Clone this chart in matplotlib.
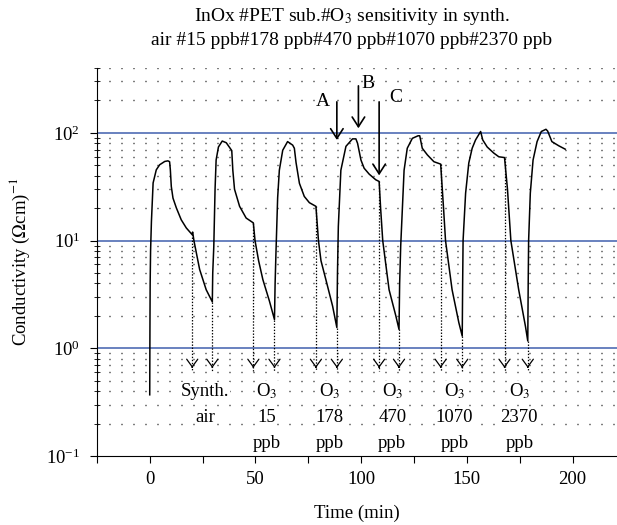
# InOx on PET, O3 sensitivity run (log conductivity vs time)

import numpy as np
import matplotlib
matplotlib.use("Agg")
import matplotlib.pyplot as plt

plt.rcParams['font.family'] = ['Liberation Serif', 'DejaVu Serif']
plt.rcParams['mathtext.fontset'] = 'stix'
plt.rcParams['lines.scale_dashes'] = False

# curve: time (min), conductivity (Ohm cm)^-1
time_min = [0, 0.1, 0.2, 0.4, 0.8, 1.6, 3.1, 4.7, 7.1, 8.6, 9.4, 9.75, 10.2, 11.0, 12.6, 14.9, 17.3, 20.0, 20.3, 20.9, 23.6, 26.7, 29.6,
            29.8, 30.3, 30.9, 31.4, 32.5, 34.3, 36.2, 38.8, 39.3, 40.1, 42.5, 45.6, 49.0, 49.8, 51.5, 53.5, 56.6, 59.0,
            59.3, 59.7, 60.5, 61.3, 62.9, 65.2, 67.6, 68.4, 69.2, 70.8, 73.1, 75.5, 78.6, 79.8, 81.0, 83.3, 86.5, 88.5,
            88.8, 89.2, 90.4, 92.8, 95.9, 97.5, 98.3, 99.9, 101.4, 103.8, 106.9, 108.5, 109.2, 110.2, 113.2, 116.4, 117.9,
            118.2, 118.7, 120.3, 121.8, 124.2, 126.9, 127.7, 128.9, 131.3, 134.4, 137.6, 139.0, 139.9, 143.0, 146.2, 147.8,
            148.0, 148.2, 149.4, 150.9, 152.5, 154.1, 156.5, 157.5, 159.6, 162.7, 165.1, 167.8, 169.2, 170.8, 174.5, 177.7, 178.8,
            179.0, 179.2, 180.0, 181.3, 183.2, 185.2, 187.4, 188.2, 190.2, 193.4, 196.5]
conductivity = [0.37, 1.5, 4.0, 8.0, 15.0, 34.3, 45.4, 50.6, 54.3, 55.0, 54.0, 45.4, 31.8, 24.8, 20.1, 15.6, 13.1, 11.4, 12.0, 10.0, 5.4, 3.5, 2.7,
                5.0, 8.8, 30.0, 56.0, 74.0, 84.0, 81.0, 68.5, 45.0, 30.0, 20.8, 16.2, 14.6, 10.0, 6.5, 4.35, 2.75, 1.85,
                4.0, 7.7, 25.0, 45.0, 69.0, 83.0, 77.0, 72.0, 53.0, 34.0, 25.7, 22.5, 20.8, 10.0, 6.5, 4.35, 2.46, 1.56,
                5.0, 13.5, 45.0, 75.0, 88.0, 88.0, 80.0, 56.0, 47.0, 41.4, 36.7, 35.4, 20.0, 10.0, 3.5, 2.0, 1.5,
                4.0, 8.9, 45.0, 72.0, 89.0, 94.0, 94.0, 72.0, 62.5, 54.0, 51.3, 19.4, 10.0, 3.5, 1.73, 1.3,
                4.0, 10.0, 27.6, 52.5, 72.0, 86.0, 103.0, 86.0, 74.0, 65.0, 60.0, 59.0, 30.0, 10.0, 3.5, 1.6, 1.17,
                4.0, 10.0, 27.6, 56.0, 83.0, 103.0, 108.0, 104.0, 83.0, 76.0, 70.6]

# gas switching points: (time, value) where the dotted arrows start
switch_off_t = [20.1, 49.0, 78.6, 108.5, 137.6, 167.8]
switch_off_v = [11.4, 14.6, 20.8, 35.4, 51.3, 59.0]
switch_on_t = [29.6, 59.0, 88.5, 117.9, 147.8, 178.8]
switch_on_v = [2.7, 1.85, 1.56, 1.5, 1.3, 1.17]

gas_top = ['Synth.', 'O$_3$', 'O$_3$', 'O$_3$', 'O$_3$', 'O$_3$']
gas_mid = ['air', '15', '178', '470', '1070', '2370']
gas_bot = ['', 'ppb', 'ppb', 'ppb', 'ppb', 'ppb']

# A/B/C markers
mark_names = ['A', 'B', 'C']
mark_t = [88.5, 98.7, 108.5]
mark_from = [206, 290, 206]
mark_to = [81, 104, 38]
mark_label_t = [82, 103, 116.5]
mark_label_v = [194, 285, 211]

FS = 13.5

fig = plt.figure(figsize=(6.17, 5.25), dpi=100)
ax = fig.add_axes([0.157, 0.1314, 0.843, 0.739])
ax.set_yscale('log')
ax.set_xlim(-25, 221)
ax.set_ylim(0.1, 400)

# dotted lattice on minor ticks + blue decades
for dec in [0.1, 1, 10, 100]:
    for m in range(2, 10):
        yv = dec * m
        if yv > 400:
            break
        ax.axhline(yv, color='black', lw=1.0, linestyle=(8.64, (0.72, 7.92)),
                   dash_capstyle='butt', zorder=0)
for yv in [1, 10, 100]:
    ax.axhline(yv, color='#4f6cb4', lw=1.2, zorder=1)

ax.plot(time_min, conductivity, color='black', lw=1.1, zorder=3)

tip = 0.62
for t, v in zip(switch_off_t + switch_on_t, switch_off_v + switch_on_v):
    ax.plot([t, t], [v, tip], color='black', lw=0.9, linestyle=(0, (1, 1.2)), zorder=2)
    ax.annotate('', xy=(t, tip), xytext=(t, tip * 1.15),
                arrowprops=dict(arrowstyle='->,head_length=0.55,head_width=0.4', color='black', lw=0.9))

for i in range(len(gas_mid)):
    xc = (switch_off_t[i] + switch_on_t[i]) / 2 + 1.5
    for txt, yv in zip([gas_top[i], gas_mid[i], gas_bot[i]], [0.40, 0.23, 0.132]):
        if txt:
            ax.text(xc, yv, txt, ha='center', va='center', fontsize=FS,
                    bbox=dict(facecolor='white', edgecolor='none', pad=0.5), zorder=4)

for name, t, y0, y1, lt, lv in zip(mark_names, mark_t, mark_from, mark_to, mark_label_t, mark_label_v):
    ax.annotate('', xy=(t, y1), xytext=(t, y0),
                arrowprops=dict(arrowstyle='->,head_length=0.7,head_width=0.45', color='black', lw=1.2))
    ax.text(lt, lv, name, ha='center', va='center', fontsize=FS + 0.5)

ax.spines['top'].set_visible(False)
ax.spines['right'].set_visible(False)
ax.set_xticks(np.arange(-25, 226, 25))
ax.set_xticklabels(['' if (v % 50 or v < 0) else str(v) for v in range(-25, 226, 25)])
ax.set_xlim(-25, 221)
ax.tick_params(axis='x', direction='out', length=5, labelsize=FS, pad=6)
ax.tick_params(axis='y', which='major', direction='out', length=5, labelsize=FS, pad=7)
ax.tick_params(axis='y', which='minor', direction='inout', length=4)

ax.set_xlabel('Time (min)', fontsize=FS, labelpad=12)
ax.set_ylabel('Conductivity ($\\Omega$cm)$^{-1}$', fontsize=FS, labelpad=10)

fig.text(0.57, 0.988, 'InOx #PET sub.#O$_3$ sensitivity in synth.\nair #15 ppb#178 ppb#470 ppb#1070 ppb#2370 ppb',
         ha='center', va='top', fontsize=14, linespacing=1.4)

fig.savefig('out.png', dpi=100)
